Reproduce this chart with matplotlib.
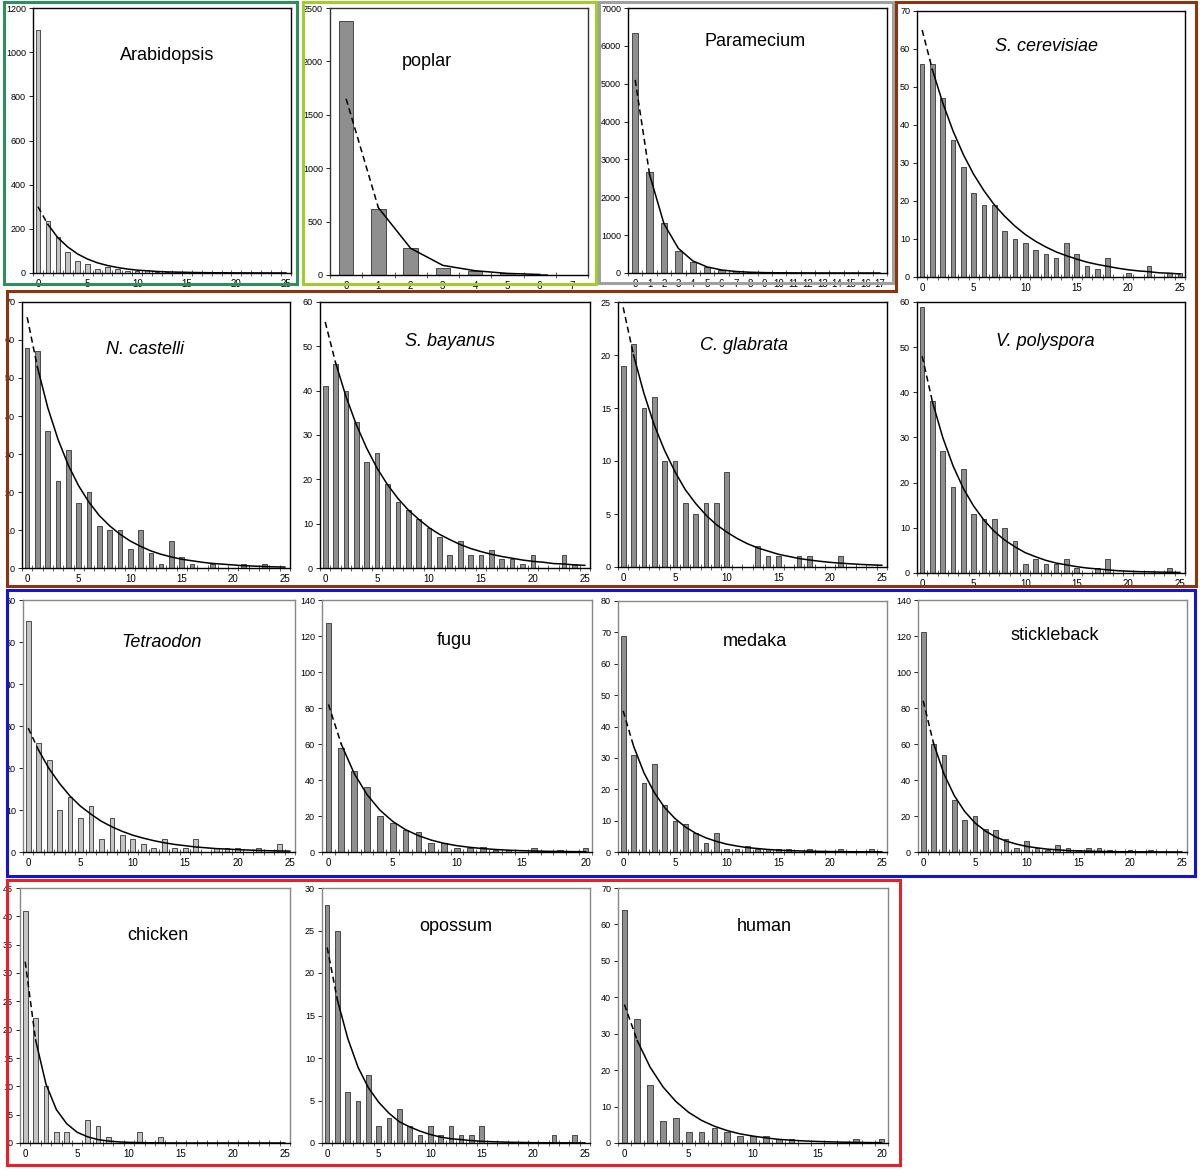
import numpy as np
import matplotlib
matplotlib.use("Agg")
import matplotlib.pyplot as plt
from matplotlib.patches import Polygon

plt.rcParams['font.family'] = ['Liberation Sans', 'DejaVu Sans']

W, H = 1200, 1172

# counts per bin (bin index = position in list)
arabidopsis = [1100, 235, 165, 95, 55, 40, 20, 25, 18, 10, 8, 12, 5, 4, 3, 2, 2, 1, 1, 1, 1, 1, 0, 0, 0, 0]
poplar = [2375, 620, 255, 70, 40, 15, 10, 3]
paramecium = [6350, 2680, 1320, 590, 290, 170, 90, 40, 20, 10, 5, 3, 2, 1, 1, 0, 0, 0]
s_cerevisiae = [56, 56, 47, 36, 29, 22, 19, 19, 12, 10, 9, 7, 6, 5, 9, 6, 3, 2, 5, 0, 1, 0, 3, 0, 1, 1]
n_castelli = [58, 57, 36, 23, 31, 17, 20, 11, 10, 10, 5, 10, 4, 1, 7, 3, 1, 0, 1, 0, 0, 1, 0, 1, 0, 0]
s_bayanus = [41, 46, 40, 33, 24, 26, 19, 15, 13, 11, 9, 7, 3, 6, 3, 3, 4, 2, 2, 1, 3, 0, 0, 3, 1, 0]
c_glabrata = [19, 21, 15, 16, 10, 10, 6, 5, 6, 6, 9, 0, 0, 2, 1, 1, 0, 1, 1, 0, 0, 1, 0, 0, 0, 0]
v_polyspora = [59, 38, 27, 19, 23, 13, 12, 12, 10, 7, 2, 3, 2, 2, 3, 1, 0, 1, 3, 0, 0, 0, 0, 0, 1, 0]
tetraodon = [55, 26, 22, 10, 13, 8, 11, 3, 8, 4, 3, 2, 1, 3, 1, 1, 3, 0, 1, 1, 1, 0, 1, 0, 2, 0]
fugu = [127, 58, 45, 36, 20, 16, 12, 11, 5, 5, 2, 2, 3, 1, 1, 0, 2, 0, 1, 0, 2]
medaka = [69, 31, 22, 28, 15, 10, 9, 6, 3, 6, 1, 1, 2, 1, 1, 1, 1, 0, 1, 0, 0, 1, 0, 0, 1, 0]
stickleback = [122, 60, 54, 29, 18, 20, 13, 12, 7, 2, 6, 2, 1, 4, 2, 1, 2, 2, 1, 0, 1, 0, 1, 0, 0, 0]
chicken = [41, 22, 10, 2, 2, 0, 4, 3, 1, 0, 0, 2, 0, 1, 0, 0, 0, 0, 0, 0, 0, 0, 0, 0, 0, 0]
opossum = [28, 25, 6, 5, 8, 2, 3, 4, 2, 1, 2, 1, 2, 1, 1, 2, 0, 0, 0, 0, 0, 0, 1, 0, 1, 0]
human = [64, 34, 16, 6, 7, 3, 3, 4, 3, 2, 2, 2, 1, 1, 0, 0, 0, 0, 1, 0, 1]

# fitted curves at each bin
fit_arabidopsis = [300, 220, 160, 118, 86, 63, 46, 34, 25, 18, 13, 10, 7, 5, 4, 3, 2, 1.5, 1, 1, 0.5, 0.4, 0.3, 0.2, 0.2, 0.1]
fit_poplar = [1650, 630, 250, 90, 40, 15, 5]
fit_paramecium = [5100, 2600, 1300, 650, 320, 160, 80, 40, 20, 10, 5, 3, 2, 1, 0.5, 0.3, 0.2, 0.1]
fit_s_cerevisiae = [65, 54.5, 45.8, 38.4, 32.2, 27.0, 22.7, 19.0, 16.0, 13.4, 11.2, 9.4, 7.9, 6.6, 5.6, 4.7, 3.9, 3.3, 2.8, 2.3, 1.9, 1.6, 1.4, 1.1, 1.0, 0.8]
fit_n_castelli = [66, 52.8, 42.2, 33.8, 27.0, 21.6, 17.3, 13.8, 11.1, 8.9, 7.1, 5.7, 4.5, 3.6, 2.9, 2.3, 1.9, 1.5, 1.2, 1.0, 0.8, 0.6, 0.5, 0.4, 0.3, 0.25]
fit_s_bayanus = [55.5, 46.3, 38.7, 32.3, 27.0, 22.5, 18.8, 15.7, 13.1, 11.0, 9.1, 7.6, 6.4, 5.3, 4.4, 3.7, 3.1, 2.6, 2.2, 1.8, 1.5, 1.3, 1.0, 0.9, 0.7, 0.6]
fit_c_glabrata = [24.5, 20.0, 16.4, 13.4, 11.0, 9.0, 7.3, 6.0, 4.9, 4.0, 3.3, 2.7, 2.2, 1.8, 1.5, 1.2, 1.0, 0.8, 0.66, 0.54, 0.44, 0.36, 0.3, 0.24, 0.2, 0.16]
fit_v_polyspora = [48, 37.9, 30.0, 23.7, 18.7, 14.8, 11.7, 9.2, 7.3, 5.8, 4.5, 3.6, 2.8, 2.2, 1.8, 1.4, 1.1, 0.9, 0.7, 0.5, 0.4, 0.3, 0.26, 0.2, 0.16, 0.13]
fit_tetraodon = [29.5, 24.2, 19.8, 16.3, 13.3, 10.9, 9.0, 7.3, 6.0, 4.9, 4.0, 3.3, 2.7, 2.2, 1.8, 1.5, 1.2, 1.0, 0.8, 0.7, 0.56, 0.46, 0.38, 0.31, 0.25, 0.21]
fit_fugu = [82, 59.9, 43.7, 31.9, 23.3, 17.0, 12.4, 9.1, 6.6, 4.8, 3.5, 2.6, 1.9, 1.4, 1.0, 0.74, 0.54, 0.39, 0.29, 0.21, 0.15]
fit_medaka = [45, 33.8, 25.3, 19.0, 14.2, 10.7, 8.0, 6.0, 4.5, 3.4, 2.5, 1.9, 1.4, 1.1, 0.8, 0.6, 0.45, 0.34, 0.25, 0.19, 0.14, 0.11, 0.08, 0.06, 0.05, 0.04]
fit_stickleback = [84, 60.5, 43.5, 31.4, 22.6, 16.2, 11.7, 8.4, 6.1, 4.4, 3.1, 2.3, 1.6, 1.2, 0.8, 0.6, 0.43, 0.31, 0.22, 0.16, 0.12, 0.08, 0.06, 0.04, 0.03, 0.02]
fit_chicken = [32, 18.2, 10.4, 5.9, 3.4, 1.9, 1.1, 0.6, 0.35, 0.2, 0.11, 0.07, 0.04, 0.02, 0.01, 0, 0, 0, 0, 0, 0, 0, 0, 0, 0, 0]
fit_opossum = [23, 16.8, 12.3, 8.9, 6.5, 4.8, 3.5, 2.5, 1.9, 1.4, 1.0, 0.7, 0.5, 0.4, 0.28, 0.2, 0.15, 0.11, 0.08, 0.06, 0.04, 0.03, 0.02, 0.02, 0.01, 0.01]
fit_human = [38, 28.1, 20.8, 15.4, 11.4, 8.4, 6.2, 4.6, 3.4, 2.5, 1.9, 1.4, 1.0, 0.76, 0.56, 0.42, 0.31, 0.23, 0.17, 0.12, 0.09]

# name, bars, fit, ymax, ystep, xstep, light bars, italic,
# axes rect in pixels (left, top, right, bottom), title pos (axes fraction), frame colour
panels = [
    ("Arabidopsis", arabidopsis, fit_arabidopsis, 1200, 200, 5, True, False, (33, 8, 291, 273), (0.52, 0.82), "black"),
    ("poplar", poplar, fit_poplar, 2500, 500, 1, False, False, (330, 8, 588, 275), (0.375, 0.80), "#333333"),
    ("Paramecium", paramecium, fit_paramecium, 7000, 1000, 1, False, False, (628, 8, 887, 273), (0.49, 0.875), "black"),
    ("S. cerevisiae", s_cerevisiae, fit_s_cerevisiae, 70, 10, 5, False, True, (917, 11, 1185, 277), (0.485, 0.865), "black"),
    ("N. castelli", n_castelli, fit_n_castelli, 70, 10, 5, False, True, (22, 302, 290, 568), (0.46, 0.82), "black"),
    ("S. bayanus", s_bayanus, fit_s_bayanus, 60, 10, 5, False, True, (320, 302, 590, 568), (0.48, 0.85), "black"),
    ("C. glabrata", c_glabrata, fit_c_glabrata, 25, 5, 5, False, True, (618, 302, 887, 567), (0.47, 0.835), "black"),
    ("V. polyspora", v_polyspora, fit_v_polyspora, 60, 10, 5, False, True, (917, 302, 1185, 573), (0.48, 0.855), "black"),
    ("Tetraodon", tetraodon, fit_tetraodon, 60, 10, 5, True, True, (23, 600, 295, 852), (0.51, 0.83), "#888888"),
    ("fugu", fugu, fit_fugu, 140, 20, 5, False, False, (322, 600, 592, 852), (0.49, 0.84), "#888888"),
    ("medaka", medaka, fit_medaka, 80, 10, 5, False, False, (618, 601, 887, 852), (0.51, 0.84), "#888888"),
    ("stickleback", stickleback, fit_stickleback, 140, 20, 5, False, False, (918, 600, 1187, 852), (0.51, 0.86), "#888888"),
    ("chicken", chicken, fit_chicken, 45, 5, 5, True, False, (20, 888, 290, 1143), (0.51, 0.815), "#888888"),
    ("opossum", opossum, fit_opossum, 30, 5, 5, False, False, (322, 888, 590, 1143), (0.50, 0.85), "#888888"),
    ("human", human, fit_human, 70, 10, 5, False, False, (618, 888, 888, 1143), (0.54, 0.85), "#888888"),
]

fig = plt.figure(figsize=(W / 100, H / 100), dpi=100)
fig.patch.set_facecolor("white")


def fx(x):
    return x / W


def fy(y):
    return 1 - y / H


for name, bars, fit, ymax, ystep, xstep, light, italic, rect, tpos, fcol in panels:
    l, t, r, b = rect
    ax = fig.add_axes([fx(l), fy(b), (r - l) / W, (b - t) / H])
    n = len(bars)
    x = np.arange(n)
    ax.bar(x, bars, width=0.45, color="#c4c4c4" if light else "#8f8f8f",
           edgecolor="#333333", linewidth=0.6, zorder=2)
    fx_ = np.arange(len(fit))
    ax.plot(fx_[:2], fit[:2], color="black", lw=1.1, ls=(0, (4, 2.5)), zorder=3)
    ax.plot(fx_[1:], fit[1:], color="black", lw=1.1, zorder=3)
    ax.set_xlim(-0.5, n - 0.5)
    ax.set_ylim(0, ymax)
    ax.set_yticks(np.arange(0, ymax + 1, ystep))
    ax.set_xticks(np.arange(0, n, xstep))
    ax.set_xticks(np.arange(-0.5, n, 1), minor=True)
    ax.tick_params(axis="x", which="major", length=0, labelsize=7, pad=4)
    ax.tick_params(axis="x", which="minor", length=4, direction="inout", width=0.6, color="#444444")
    ax.tick_params(axis="y", which="major", length=3, width=0.6, labelsize=6.5, pad=2)
    for s in ax.spines.values():
        s.set_color(fcol)
        s.set_linewidth(1.0)
    ax.spines["bottom"].set_color("black")
    ax.text(tpos[0], tpos[1], name, transform=ax.transAxes, ha="center", va="center",
            fontsize=13, style="italic" if italic else "normal")

# coloured group outlines
def outline(pts, color):
    poly = Polygon([(fx(px), fy(py)) for px, py in pts], closed=True, fill=False,
                   edgecolor=color, linewidth=2.2, transform=fig.transFigure)
    fig.patches.append(poly)


outline([(4, 2), (297, 2), (297, 284), (4, 284)], "#2e8f5e")
outline([(303, 2), (596, 2), (596, 284), (303, 284)], "#a2cc2c")
outline([(599, 2), (893, 2), (893, 283), (599, 283)], "#a0a0a0")
outline([(896, 2), (1196, 2), (1196, 586), (7, 586), (7, 291), (896, 291)], "#8b3510")
outline([(7, 590), (1195, 590), (1195, 876), (7, 876)], "#1414d2")
outline([(7, 880), (900, 880), (900, 1165), (7, 1165)], "#e8202a")

fig.savefig("out.png", dpi=100)
